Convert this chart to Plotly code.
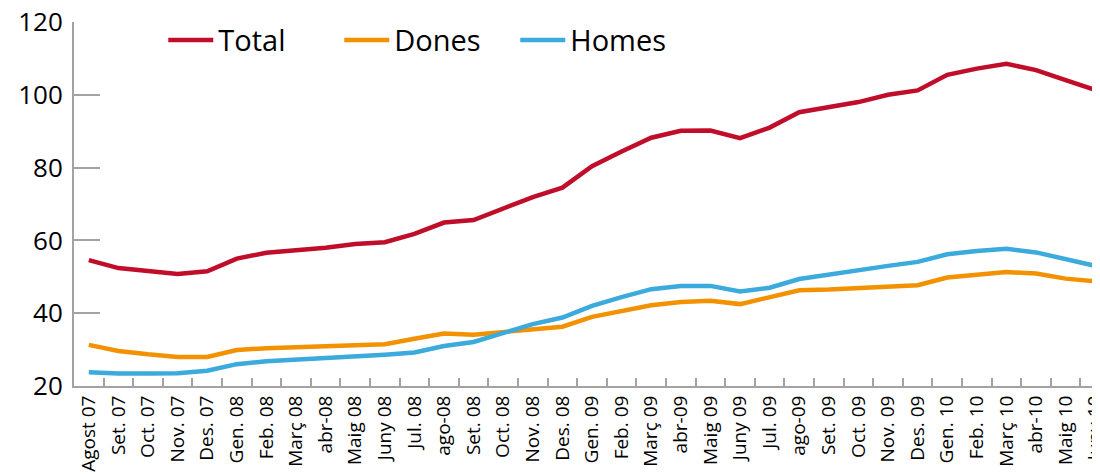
import plotly.graph_objects as go

categories = ["Agost 07", "Set. 07", "Oct. 07", "Nov. 07", "Des. 07", "Gen. 08", "Feb. 08",
              "Març 08", "abr-08", "Maig 08", "Juny 08", "Jul. 08", "ago-08", "Set. 08",
              "Oct. 08", "Nov. 08", "Des. 08", "Gen. 09", "Feb. 09", "Març 09", "abr-09",
              "Maig 09", "Juny 09", "Jul. 09", "ago-09", "Set. 09", "Oct. 09", "Nov. 09",
              "Des. 09", "Gen. 10", "Feb. 10", "Març 10", "abr-10", "Maig 10", "Juny 10"]

total = [54.6, 52.4, 51.6, 50.8, 51.5, 55.0, 56.6, 57.2, 58.0, 59.0, 59.5, 61.8, 64.9, 65.6,
         68.9, 71.9, 74.5, 80.4, 84.4, 88.2, 90.1, 90.2, 88.1, 91.0, 95.2, 96.6, 98.0, 100.0,
         101.2, 105.5, 107.2, 108.5, 106.8, 104.0, 101.3]
dones = [31.3, 29.6, 28.7, 28.0, 28.0, 29.9, 30.4, 30.5, 30.9, 31.2, 31.5, 33.0, 34.4, 34.1,
         34.8, 35.6, 36.3, 39.0, 40.7, 42.2, 43.1, 43.4, 42.5, 44.4, 46.3, 46.5, 46.9, 47.6,
         47.7, 49.8, 50.7, 51.3, 50.9, 49.5, 48.8]
homes = [23.8, 23.4, 23.4, 23.5, 24.2, 26.0, 26.8, 27.2, 27.7, 28.2, 28.6, 29.2, 31.0, 32.1,
         34.7, 37.0, 38.8, 42.0, 44.4, 46.6, 47.5, 47.5, 46.0, 47.0, 49.4, 50.7, 51.8, 53.0,
         54.1, 56.2, 57.1, 57.7, 56.7, 54.9, 53.0]

series = [("Total", total, "#C00D2A"), ("Dones", dones, "#F39200"), ("Homes", homes, "#3BAADD")]

fig = go.Figure()
for name, vals, col in series:
    fig.add_trace(go.Scatter(x=categories, y=vals, name=name, mode="lines",
                             line=dict(color=col, width=4.5)))

axis_col = "#A3A3A3"
fig.update_layout(
    width=1092, height=468,
    margin=dict(l=66, r=0, t=14, b=90),
    plot_bgcolor="white", paper_bgcolor="white",
    font=dict(family="Open Sans", color="black"),
    showlegend=True,
    legend=dict(orientation="h", x=0.087, y=0.95, xanchor="left", yanchor="middle",
                font=dict(size=29), entrywidth=116, entrywidthmode="pixels",
                bgcolor="rgba(0,0,0,0)", itemwidth=45),
    xaxis=dict(type="category", range=[-0.5, 34.16], showgrid=False, automargin=False,
               showline=True, linecolor=axis_col, linewidth=2,
               ticks="inside", ticklen=8, tickwidth=2, tickcolor=axis_col,
               tickson="boundaries", tickangle=-90, tickfont=dict(size=19),
               ticklabeloverflow="allow"),
    yaxis=dict(range=[20, 120], dtick=20, showgrid=False, zeroline=False, automargin=False,
               showline=True, linecolor=axis_col, linewidth=2,
               ticks="inside", ticklen=26, tickwidth=2, tickcolor=axis_col,
               tickfont=dict(size=26), ticklabelstandoff=4, ticklabeloverflow="allow"),
)

fig.write_html("out.html")
